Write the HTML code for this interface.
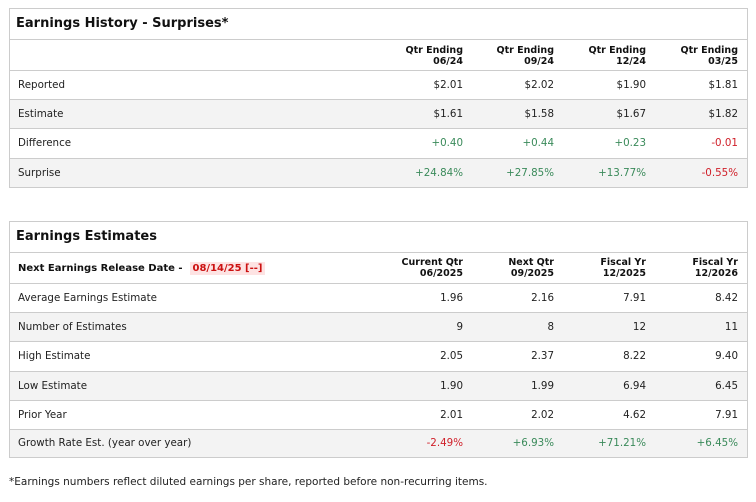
<!DOCTYPE html>
<html><head><meta charset="utf-8"><style>
*{margin:0;padding:0;box-sizing:border-box}
body{width:756px;height:502px;background:#fff;font-family:"DejaVu Sans","Liberation Sans",sans-serif;color:#222;position:relative;overflow:hidden}
.box{position:absolute;left:9px;width:739px;border:1px solid #ccc}
.row{position:relative;border-top:1px solid #ccc;font-size:10.3px}
.row.alt{background:#f3f3f3}
.title{height:30px;font-size:13px;font-weight:bold;line-height:30px;padding-left:6px;color:#111}
.lab{position:absolute;left:8px;top:0}
.c{position:absolute;text-align:right;width:100px}
.c1{right:284px}.c2{right:193px}.c3{right:101px}.c4{right:9px}
.hdr{font-weight:bold;font-size:9.5px;line-height:11px;color:#111}
.g{color:#3a8a5a}.r{color:#d0202a}
.badge{background:#fde3e3;color:#cc1111;padding:1px 3px}
.foot{position:absolute;left:9px;top:476px;font-size:10.5px}
</style></head><body>
<div class="box" style="top:8px;height:180px">
 <div class="title">Earnings History - Surprises*</div>
 <div class="row hdr" style="height:31px">
  <div class="c c1" style="top:5px">Qtr Ending<br>06/24</div><div class="c c2" style="top:5px">Qtr Ending<br>09/24</div><div class="c c3" style="top:5px">Qtr Ending<br>12/24</div><div class="c c4" style="top:5px">Qtr Ending<br>03/25</div>
 </div>
 <div class="row" style="height:29px;line-height:28px"><span class="lab">Reported</span><span class="c c1">$2.01</span><span class="c c2">$2.02</span><span class="c c3">$1.90</span><span class="c c4">$1.81</span></div>
 <div class="row alt" style="height:29px;line-height:28px"><span class="lab">Estimate</span><span class="c c1">$1.61</span><span class="c c2">$1.58</span><span class="c c3">$1.67</span><span class="c c4">$1.82</span></div>
 <div class="row" style="height:30px;line-height:29px"><span class="lab">Difference</span><span class="c c1 g">+0.40</span><span class="c c2 g">+0.44</span><span class="c c3 g">+0.23</span><span class="c c4 r">-0.01</span></div>
 <div class="row alt" style="height:29px;line-height:28px"><span class="lab">Surprise</span><span class="c c1 g">+24.84%</span><span class="c c2 g">+27.85%</span><span class="c c3 g">+13.77%</span><span class="c c4 r">-0.55%</span></div>
</div>
<div class="box" style="top:221px;height:237px">
 <div class="title">Earnings Estimates</div>
 <div class="row hdr" style="height:31px">
  <span class="lab" style="top:10px;font-size:10px">Next Earnings Release Date - &nbsp;<span class="badge">08/14/25 [--]</span></span>
  <div class="c c1" style="top:4px">Current Qtr<br>06/2025</div><div class="c c2" style="top:4px">Next Qtr<br>09/2025</div><div class="c c3" style="top:4px">Fiscal Yr<br>12/2025</div><div class="c c4" style="top:4px">Fiscal Yr<br>12/2026</div>
 </div>
 <div class="row" style="height:29px;line-height:28px"><span class="lab">Average Earnings Estimate</span><span class="c c1">1.96</span><span class="c c2">2.16</span><span class="c c3">7.91</span><span class="c c4">8.42</span></div>
 <div class="row alt" style="height:29px;line-height:28px"><span class="lab">Number of Estimates</span><span class="c c1">9</span><span class="c c2">8</span><span class="c c3">12</span><span class="c c4">11</span></div>
 <div class="row" style="height:30px;line-height:29px"><span class="lab">High Estimate</span><span class="c c1">2.05</span><span class="c c2">2.37</span><span class="c c3">8.22</span><span class="c c4">9.40</span></div>
 <div class="row alt" style="height:29px;line-height:28px"><span class="lab">Low Estimate</span><span class="c c1">1.90</span><span class="c c2">1.99</span><span class="c c3">6.94</span><span class="c c4">6.45</span></div>
 <div class="row" style="height:29px;line-height:28px"><span class="lab">Prior Year</span><span class="c c1">2.01</span><span class="c c2">2.02</span><span class="c c3">4.62</span><span class="c c4">7.91</span></div>
 <div class="row alt" style="height:28px;line-height:27px"><span class="lab">Growth Rate Est. (year over year)</span><span class="c c1 r">-2.49%</span><span class="c c2 g">+6.93%</span><span class="c c3 g">+71.21%</span><span class="c c4 g">+6.45%</span></div>
</div>
<div class="foot">*Earnings numbers reflect diluted earnings per share, reported before non-recurring items.</div>
</body></html>
